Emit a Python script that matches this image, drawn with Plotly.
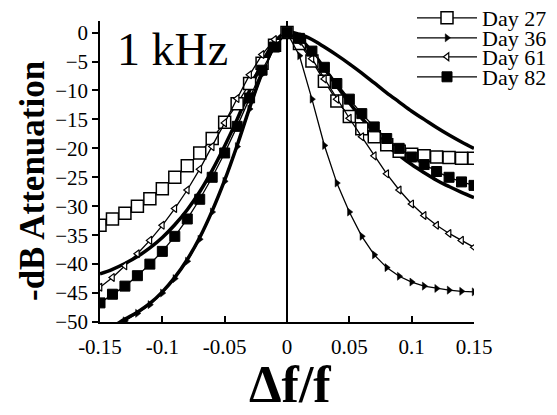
import plotly.graph_objects as go

x_vals = [round(-0.15 + 0.01 * i, 2) for i in range(31)]

day27 = [-33.3, -32.2, -31.2, -30.0, -28.7, -27.0, -25.0, -23.0, -20.8, -18.3, -15.5, -12.3, -8.8, -5.3, -2.2, 0.0,
         -1.9, -4.9, -8.4, -11.8, -14.5, -16.6, -18.0, -19.4, -20.5, -21.0, -21.3, -21.5, -21.6, -21.7, -21.7]
day36 = [-53.0, -51.5, -49.8, -48.5, -47.0, -45.0, -42.5, -39.5, -35.7, -31.0, -25.7, -19.7, -13.2, -7.2, -2.5, 0.0,
         -4.0, -11.5, -19.5, -26.0, -31.0, -35.2, -38.4, -40.6, -42.1, -43.1, -43.8, -44.2, -44.5, -44.7, -44.8]
day61 = [-44.0, -42.3, -40.3, -38.2, -35.9, -33.3, -30.4, -27.2, -23.6, -19.7, -15.6, -11.4, -7.3, -3.8, -1.2, 0.0,
         -1.5, -4.5, -8.0, -11.5, -14.8, -18.0, -21.3, -24.4, -27.2, -29.6, -31.6, -33.3, -34.7, -35.9, -37.1]
day82 = [-46.7, -45.2, -43.8, -42.0, -40.0, -37.8, -35.2, -32.2, -28.8, -25.0, -20.8, -16.2, -11.3, -6.5, -2.5, 0.0,
         -1.0, -3.2, -6.0, -8.8, -11.5, -14.0, -16.3, -18.3, -20.0, -21.5, -22.8, -24.0, -25.0, -25.8, -26.4]
model_a = [-41.7, -40.9, -39.9, -38.7, -37.2, -35.4, -33.2, -30.6, -27.5, -23.8, -19.6, -15.0, -10.0, -5.3, -1.6, 0.0,
           -1.0, -3.3, -6.2, -9.2, -12.1, -14.8, -17.2, -19.4, -21.2, -22.8, -24.2, -25.5, -26.6, -27.6, -28.5]
model_b = [-52.0, -50.8, -49.5, -48.3, -46.8, -44.8, -42.3, -39.2, -35.4, -30.8, -25.5, -19.5, -13.0, -7.0, -2.3, 0.0,
           -0.3, -1.2, -2.5, -3.9, -5.4, -7.0, -8.7, -10.4, -12.0, -13.6, -15.0, -16.4, -17.7, -18.9, -20.0]

x_ticks = [-0.15, -0.1, -0.05, 0, 0.05, 0.1, 0.15]
x_tick_text = ["-0.15", "-0.1", "-0.05", "0", "0.05", "0.1", "0.15"]
y_ticks = [0, -5, -10, -15, -20, -25, -30, -35, -40, -45, -50]

FONT = "Liberation Serif"

W, H = 557, 415
l, r, t, b = 100, 83, 21, 93
pw, ph = W - l - r, H - t - b

def px(xp):
    return (xp - l) / pw

def py(yp):
    return 1 - (yp - t) / ph

fig = go.Figure()

for ys in (model_a, model_b):
    fig.add_trace(go.Scatter(x=x_vals, y=ys, mode="lines", line=dict(color="black", width=3.5, shape="spline"),
                             showlegend=False, hoverinfo="skip"))

series = [
    ("Day 27", day27, dict(symbol="square", size=12, color="white", line=dict(color="black", width=1.5))),
    ("Day 36", day36, dict(symbol="triangle-right", size=7, color="black", line=dict(color="black", width=0.5))),
    ("Day 61", day61, dict(symbol="triangle-left", size=7, color="white", line=dict(color="black", width=1.2))),
    ("Day 82", day82, dict(symbol="square", size=10, color="black", line=dict(color="black", width=1))),
]
legend_rows = [18, 38, 57, 77]
legend_names = ["legend", "legend2", "legend3", "legend4"]

layout_legends = {}
for (name, ys, mk), lg, row in zip(series, legend_names, legend_rows):
    fig.add_trace(go.Scatter(x=x_vals, y=ys, mode="lines+markers", name=name, legend=lg,
                             line=dict(color="black", width=1.3), marker=mk))
    layout_legends[lg] = dict(x=px(412), y=py(row), xanchor="left", yanchor="middle",
                              bgcolor="rgba(0,0,0,0)", borderwidth=0, itemwidth=60,
                              font=dict(family=FONT, size=22, color="black"))

fig.update_layout(
    width=W, height=H,
    margin=dict(l=l, r=r, t=t, b=b, autoexpand=False),
    paper_bgcolor="white", plot_bgcolor="white",
    font=dict(family=FONT, color="black", size=21),
    xaxis=dict(range=[-0.15, 0.15], tickvals=x_ticks, ticktext=x_tick_text, showgrid=False,
               zeroline=True, zerolinecolor="black", zerolinewidth=1.5,
               showline=True, linecolor="black", linewidth=1.5, ticks="inside", ticklen=6,
               tickcolor="black", tickwidth=1.5, tickfont=dict(family=FONT, size=21), ticklabelstandoff=5),
    yaxis=dict(range=[-50, 2], tickvals=y_ticks, showgrid=False, zeroline=False,
               showline=True, linecolor="black", linewidth=1.5, ticks="outside", ticklen=6,
               tickcolor="black", tickwidth=1.5, tickfont=dict(family=FONT, size=21)),
    **layout_legends,
)

fig.add_annotation(text="1 kHz", x=px(115), y=py(50), xref="paper", yref="paper", showarrow=False,
                   font=dict(family=FONT, size=46, color="black"), xanchor="left", yanchor="middle")
fig.add_annotation(text="<b>-dB Attenuation</b>", x=px(32), y=py(181), xref="paper", yref="paper", showarrow=False,
                   font=dict(family=FONT, size=35, color="black"), textangle=-90, xanchor="center", yanchor="middle")
fig.add_annotation(text="<b>Δf/f</b>", x=px(290), y=py(384), xref="paper", yref="paper", showarrow=False,
                   font=dict(family=FONT, size=52, color="black"), xanchor="center", yanchor="middle")

fig.write_html("out.html")
